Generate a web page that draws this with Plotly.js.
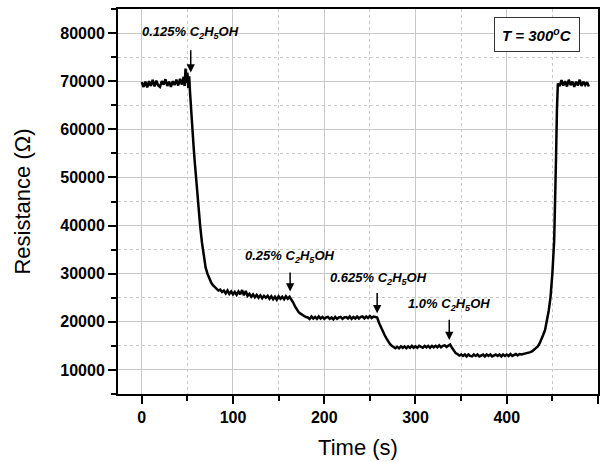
<!DOCTYPE html>
<html>
<head>
<meta charset="utf-8">
<script src="https://cdn.plot.ly/plotly-3.0.1.min.js"></script>
<style>html,body{margin:0;padding:0;background:#fff;}#chart{width:610px;height:462px;}</style>
</head>
<body>
<div id="chart"></div>
<script>
// Time (s)
const timeS = [0,2,4,6,8,10,12,14,16,18,20,22,24,26,28,30,32,34,36,38,40,42,44,46,47,48,49,50,51,52,53,54,55,56,57,58,59,60,61,62,63,64,66,68,70,72,74,76,78,80,82,84,86,88,90,
92,94,96,98,100,102,104,106,108,110,112,114,116,118,120,122,124,126,128,130,132,134,136,138,140,142,144,146,148,150,152,154,156,158,160,162,
164,166,168,170,172,174,176,178,180,182,184,186,188,
190,192,194,196,198,200,202,204,206,208,210,212,214,216,218,220,222,224,226,228,230,232,234,236,238,240,242,244,246,248,250,252,254,256,258,
260,262,264,266,268,270,272,274,276,278,280,282,
284,286,288,290,292,294,296,298,300,302,304,306,308,310,312,314,316,318,320,322,324,326,328,330,332,334,336,338,
340,342,344,346,348,350,
352,354,356,358,360,362,364,366,368,370,372,374,376,378,380,382,384,386,388,390,392,394,396,398,400,402,404,406,408,410,412,414,416,418,
420,422,424,426,428,430,432,434,436,438,440,442,444,446,448,450,452,453,454,455,456,
458,460,462,464,466,468,470,472,474,476,478,480,482,484,486,488,490];
// Resistance (Ohm)
const resistance = [69800,68800,69900,68700,70000,69000,70300,68900,70100,69100,68800,70000,69300,70400,69000,69900,68800,70000,69200,70300,69100,70500,69300,70900,69000,72600,69600,71800,68600,71000,67500,64500,60500,57000,56000,53500,51200,48500,46000,44000,42000,40000,36500,33500,31300,30000,29000,28200,27600,27200,26900,26500,26700,26200,26500,
25900,26500,25800,26300,25700,26200,25600,26300,25700,26600,25500,26400,25400,25800,25200,25700,25100,25600,25000,25500,24900,25400,25000,25400,24800,25300,24700,25200,24600,25300,24800,25200,24700,25300,24800,25200,
24700,24000,23200,22500,22000,21700,21400,21200,21000,20900,20600,21100,20700,
21000,20600,21100,20700,21000,20600,20900,21000,20600,20900,20500,21000,20600,20900,21000,20600,20900,21000,20700,21100,20600,21000,20700,21100,20700,21000,21100,20700,21100,20800,21200,20800,21100,21000,20900,
19800,18900,18100,17300,16600,15900,15400,15000,14800,14500,14800,14500,
14900,14600,14900,14500,14900,14600,15000,14600,14900,14600,15000,14700,14600,15000,14700,15000,14600,15000,14700,15000,14700,15100,14700,15000,15100,14800,15100,15300,
14600,13900,13500,13300,13000,13200,
12900,13200,12800,13200,12900,12800,13200,12900,13200,12800,13000,13200,12800,13200,12900,13200,12800,13000,13200,12900,13200,12800,13200,12900,13200,12900,13300,12900,13200,13300,13000,13300,13200,13300,
13300,13400,13500,13700,13900,14200,14500,14900,15500,16300,17300,18300,20000,22300,25200,30000,37000,44000,54000,64000,69500,
69000,70200,69100,70000,68900,70300,69200,69900,68800,69900,69100,70300,69000,69900,69200,69800,68900];

const xTickVals = [0,100,200,300,400,500];
const yTickVals = [10000,20000,30000,40000,50000,60000,70000,80000];
const gasLabels = ['0.125% C<sub>2</sub>H<sub>5</sub>OH','0.25% C<sub>2</sub>H<sub>5</sub>OH','0.625% C<sub>2</sub>H<sub>5</sub>OH','1.0% C<sub>2</sub>H<sub>5</sub>OH'];
const gasTimes = [53.7,162.6,258,337];
const tempLabel = 'T = 300<sup>o</sup>C';

const F = 'Liberation Sans, Arial, sans-serif';

const labelPos = [[53.8,80060],[162.6,33560],[259.2,29060],[336.4,23510]];
const arrowYs = [[76740,71820],[30580,26280],[26280,21790],[20750,16240]];

const annotations = [];
gasLabels.forEach((lab,i)=>{
  annotations.push({x:labelPos[i][0], y:labelPos[i][1], xref:'x', yref:'y', text:'<b><i>'+lab+'</i></b>', showarrow:false,
    font:{family:F,size:13,color:'#000'}, xanchor:'center', yanchor:'middle'});
  annotations.push({x:gasTimes[i], y:arrowYs[i][1], ax:gasTimes[i], ay:arrowYs[i][0], xref:'x', yref:'y', axref:'x', ayref:'y',
    text:'', showarrow:true, arrowhead:2, arrowsize:1.1, arrowwidth:1.5, arrowcolor:'#000', standoff:0, startstandoff:0});
});
annotations.push({x:433.4, y:79750, xref:'x', yref:'y', text:'<b><i>'+tempLabel+'</i></b>', showarrow:false,
  font:{family:F,size:15,color:'#000'}, xanchor:'center', yanchor:'middle', bordercolor:'#333', borderwidth:1, borderpad:7, bgcolor:'#fff'});

const axisCommon = {
  ticks:'outside', ticklen:8, tickwidth:2, tickcolor:'#000',
  showline:true, linecolor:'#000', linewidth:2, mirror:true,
  showgrid:true, gridcolor:'#c8c8c8', gridwidth:1, zeroline:false,
  tickfont:{family:F, size:16, color:'#000', weight:'bold'}
};

const layout = {
  width:610, height:462,
  margin:{l:118, r:12, t:9, b:68},
  paper_bgcolor:'#fff', plot_bgcolor:'#fff',
  showlegend:false,
  font:{family:F, color:'#000'},
  xaxis:Object.assign({}, axisCommon, {
    range:[-26,500], tickvals:xTickVals,
    minor:{dtick:50, tick0:0, ticks:'outside', ticklen:5, tickwidth:2, tickcolor:'#000', showgrid:true, griddash:'dot', gridcolor:'#c8c8c8', gridwidth:1},
    title:{text:'Time (s)', font:{family:F, size:22, color:'#000'}, standoff:14}
  }),
  yaxis:Object.assign({}, axisCommon, {
    range:[5000,85000], tickvals:yTickVals, tickformat:'d',
    minor:{dtick:5000, tick0:0, ticks:'outside', ticklen:5, tickwidth:2, tickcolor:'#000', showgrid:true, griddash:'dot', gridcolor:'#c8c8c8', gridwidth:1},
    title:{text:'Resistance (Ω)', font:{family:F, size:22, color:'#000'}, standoff:24}
  }),
  annotations:annotations
};

Plotly.newPlot('chart', [{
  x:timeS, y:resistance, type:'scatter', mode:'lines',
  line:{color:'#000', width:2.5}
}], layout, {displayModeBar:false, staticPlot:true});
</script>
</body>
</html>
